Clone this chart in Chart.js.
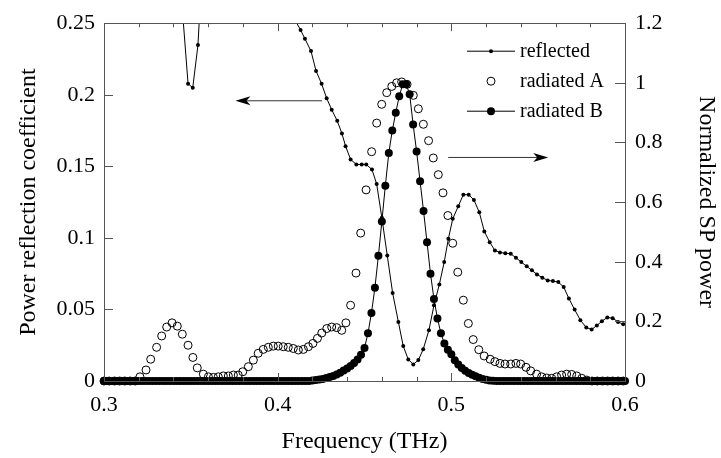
<!DOCTYPE html>
<html>
<head>
<meta charset="utf-8">
<script src="https://cdn.jsdelivr.net/npm/chart.js@4.4.0/dist/chart.umd.min.js"></script>
<style>
  html, body { margin: 0; padding: 0; background: #fff; }
</style>
</head>
<body>
<canvas id="chart" width="721" height="458"></canvas>
<script>
// reflected power (left axis)
const reflFreq = [
  0.3425, 0.3454, 0.3484, 0.3511, 0.3541, 0.3570, 0.4103, 0.4132, 0.4157, 0.4192,
  0.4221, 0.4253, 0.4282, 0.4311, 0.4343, 0.4370, 0.4391, 0.4420, 0.4453, 0.4484,
  0.4510, 0.4543, 0.4570, 0.4600, 0.4631, 0.4662, 0.4695, 0.4723, 0.4752, 0.4781,
  0.4810, 0.4838, 0.4871, 0.4900, 0.4931, 0.4959, 0.4983, 0.5008, 0.5040, 0.5069,
  0.5100, 0.5130, 0.5161, 0.5190, 0.5221, 0.5251, 0.5280, 0.5311, 0.5342, 0.5372,
  0.5403, 0.5434, 0.5464, 0.5493, 0.5524, 0.5555, 0.5585, 0.5616, 0.5647, 0.5677,
  0.5710, 0.5743, 0.5777, 0.5808, 0.5838, 0.5867, 0.5898, 0.5929, 0.5960, 0.5990
];
const reflValues = [
  0.32, 0.255, 0.2077, 0.2049, 0.2347, 0.30, 0.2515, 0.2453, 0.2391, 0.2305,
  0.2166, 0.2077, 0.1976, 0.1896, 0.1818, 0.1729, 0.1641, 0.1548, 0.1513, 0.1513,
  0.1513, 0.1478, 0.1377, 0.1140, 0.0877, 0.0615, 0.0413, 0.0244, 0.0151, 0.0116,
  0.0146, 0.0221, 0.0355, 0.0529, 0.0675, 0.0831, 0.0994, 0.1133, 0.1221, 0.1302,
  0.1302, 0.1265, 0.1179, 0.1045, 0.0970, 0.0912, 0.0898, 0.0893, 0.0889, 0.0861,
  0.0831, 0.0801, 0.0773, 0.0745, 0.0722, 0.0703, 0.0698, 0.0691, 0.0657, 0.0576,
  0.0499, 0.0425, 0.0374, 0.0360, 0.0388, 0.0418, 0.0444, 0.0439, 0.0413, 0.0397
];

// radiated A (right axis, open circles)
const radAFreq = [
  0.300, 0.303, 0.306, 0.309, 0.312, 0.315, 0.318, 0.3207, 0.3242, 0.3269,
  0.3303, 0.3332, 0.3361, 0.3392, 0.3422, 0.3451, 0.3484, 0.3512, 0.3537, 0.3572,
  0.3601, 0.3630, 0.3658, 0.3687, 0.3716, 0.3745, 0.3773, 0.3799, 0.3831, 0.3860,
  0.3888, 0.3917, 0.3946, 0.3975, 0.4003, 0.4032, 0.4061, 0.4090, 0.4119, 0.4148,
  0.4177, 0.4203, 0.4229, 0.4254, 0.4283, 0.4311, 0.4340, 0.4369, 0.4393, 0.4420,
  0.4451, 0.4478, 0.4509, 0.4541, 0.4570, 0.4599, 0.4628, 0.4657, 0.4685, 0.4714,
  0.4745, 0.4781, 0.4810, 0.4839, 0.4869, 0.4896, 0.4925, 0.4952, 0.4980, 0.5008,
  0.5037, 0.5069, 0.5098, 0.5126, 0.5158, 0.5189, 0.5223, 0.5251, 0.5280, 0.5309,
  0.5342, 0.5372, 0.5399, 0.5430, 0.5457, 0.5491, 0.5520, 0.5549, 0.5578, 0.5607,
  0.5635, 0.5664, 0.5693, 0.5722, 0.5751, 0.5780, 0.581, 0.584, 0.587, 0.590,
  0.593, 0.596, 0.599
];
const radAValues = [
  0, 0, 0, 0, 0, 0, 0, 0.014, 0.037, 0.073,
  0.113, 0.151, 0.181, 0.195, 0.184, 0.157, 0.120, 0.079, 0.044, 0.023,
  0.014, 0.012, 0.014, 0.017, 0.017, 0.020, 0.020, 0.031, 0.048, 0.070,
  0.093, 0.106, 0.113, 0.117, 0.117, 0.115, 0.113, 0.109, 0.104, 0.106,
  0.115, 0.126, 0.143, 0.161, 0.176, 0.181, 0.179, 0.170, 0.195, 0.254,
  0.362, 0.496, 0.641, 0.769, 0.865, 0.928, 0.967, 0.988, 1.000, 1.003,
  0.995, 0.958, 0.913, 0.861, 0.806, 0.748, 0.692, 0.631, 0.555, 0.462,
  0.365, 0.271, 0.193, 0.139, 0.105, 0.084, 0.073, 0.065, 0.059, 0.057,
  0.057, 0.059, 0.057, 0.046, 0.034, 0.023, 0.014, 0.010, 0.009, 0.014,
  0.020, 0.023, 0.022, 0.017, 0.009, 0.003, 0, 0, 0, 0,
  0, 0, 0
];

// radiated B (right axis, filled circles with line)
const radBFreq = [
  0.300, 0.302, 0.304, 0.306, 0.308, 0.310, 0.312, 0.314, 0.316, 0.318,
  0.320, 0.322, 0.324, 0.326, 0.328, 0.330, 0.332, 0.334, 0.336, 0.338,
  0.340, 0.342, 0.344, 0.346, 0.348, 0.350, 0.352, 0.354, 0.356, 0.358,
  0.360, 0.362, 0.364, 0.366, 0.368, 0.370, 0.372, 0.374, 0.376, 0.378,
  0.380, 0.382, 0.384, 0.386, 0.388, 0.390, 0.392, 0.394, 0.396, 0.398,
  0.400, 0.402, 0.404, 0.406, 0.408, 0.410, 0.412, 0.414, 0.416, 0.418,
  0.420, 0.422, 0.424, 0.426, 0.428, 0.430, 0.432, 0.434, 0.436, 0.438,
  0.440, 0.442, 0.444, 0.446, 0.448, 0.450, 0.452, 0.454, 0.456, 0.458,
  0.460, 0.462, 0.464, 0.466, 0.468, 0.470, 0.472, 0.474, 0.476, 0.478,
  0.480, 0.482, 0.484, 0.486, 0.488, 0.490, 0.492, 0.494, 0.496, 0.498,
  0.500, 0.502, 0.504, 0.506, 0.508, 0.510, 0.512, 0.514, 0.516, 0.518,
  0.520, 0.522, 0.524, 0.526, 0.528, 0.530, 0.532, 0.534, 0.536, 0.538,
  0.540, 0.542, 0.544, 0.546, 0.548, 0.550, 0.552, 0.554, 0.556, 0.558,
  0.560, 0.562, 0.564, 0.566, 0.568, 0.570, 0.572, 0.574, 0.576, 0.578,
  0.580, 0.582, 0.584, 0.586, 0.588, 0.590, 0.592, 0.594, 0.596, 0.598,
  0.600
];
const radBValues = [
  0, 0, 0, 0, 0, 0, 0, 0, 0, 0,
  0, 0, 0, 0, 0, 0, 0, 0, 0, 0,
  0, 0, 0, 0, 0, 0, 0, 0, 0, 0,
  0, 0, 0, 0, 0, 0, 0, 0, 0, 0,
  0, 0, 0, 0, 0, 0, 0, 0, 0, 0,
  0, 0, 0, 0, 0, 0, 0, 0, 0, 0,
  0.002, 0.003, 0.005, 0.007, 0.010, 0.013, 0.017, 0.022, 0.028, 0.035,
  0.042, 0.050, 0.060, 0.072, 0.088, 0.111, 0.160, 0.228, 0.313, 0.420,
  0.535, 0.655, 0.765, 0.840, 0.900, 0.955, 0.995, 0.995, 0.962, 0.860,
  0.770, 0.670, 0.570, 0.465, 0.360, 0.275, 0.210, 0.160, 0.126, 0.105,
  0.090, 0.070, 0.055, 0.044, 0.034, 0.027, 0.021, 0.016, 0.011, 0.007,
  0.004, 0.002, 0.001, 0, 0, 0, 0, 0, 0, 0,
  0, 0, 0, 0, 0, 0, 0, 0, 0, 0,
  0, 0, 0, 0, 0, 0, 0, 0, 0, 0,
  0, 0, 0, 0, 0, 0, 0, 0, 0, 0,
  0
];

const xTicks = [0.3, 0.4, 0.5, 0.6];
const xMinorTicks = [0.32, 0.34, 0.36, 0.38, 0.42, 0.44, 0.46, 0.48, 0.52, 0.54, 0.56, 0.58];
const leftTicks = [0, 0.05, 0.1, 0.15, 0.2, 0.25];
const rightTicks = [0, 0.2, 0.4, 0.6, 0.8, 1, 1.2];

const FONT = '"Liberation Serif", "Times New Roman", serif';
const AXIS_COLOR = '#555';

const toPoints = (xs, ys) => xs.map((x, i) => ({ x: x, y: ys[i] }));

// arrows pointing from the curves to their axes (in data units of left axis)
const arrows = [
    { from: [0.4256, 0.1958], to: [0.3757, 0.1958] },
    { from: [0.4982, 0.1562], to: [0.5558, 0.1562] }
];

function drawArrow(ctx, x1, y1, x2, y2) {
    const ang = Math.atan2(y2 - y1, x2 - x1);
    const len = 15, half = 4.5, notch = 11;
    const cos = Math.cos(ang), sin = Math.sin(ang);
    ctx.strokeStyle = '#333';
    ctx.lineWidth = 1;
    ctx.beginPath();
    ctx.moveTo(x1, y1);
    ctx.lineTo(x2 - cos * notch, y2 - sin * notch);
    ctx.stroke();
    ctx.fillStyle = '#000';
    ctx.beginPath();
    ctx.moveTo(x2, y2);
    ctx.lineTo(x2 - cos * len - sin * half, y2 - sin * len + cos * half);
    ctx.lineTo(x2 - cos * notch, y2 - sin * notch);
    ctx.lineTo(x2 - cos * len + sin * half, y2 - sin * len - cos * half);
    ctx.closePath();
    ctx.fill();
}

// frame with inward ticks, arrows and the in-plot legend
const framePlugin = {
    id: 'frame',
    afterDatasetsDraw(chart) {
        const { ctx, chartArea: a, scales } = chart;
        const xs = scales.x, yl = scales.y, yr = scales.y1;
        ctx.save();
        ctx.strokeStyle = AXIS_COLOR;
        ctx.lineWidth = 1;
        ctx.strokeRect(Math.round(a.left) + 0.5, Math.round(a.top) + 0.5,
            Math.round(a.right - a.left), Math.round(a.bottom - a.top));

        ctx.beginPath();
        const xTick = (v, l) => {
            const px = Math.round(xs.getPixelForValue(v)) + 0.5;
            ctx.moveTo(px, a.bottom); ctx.lineTo(px, a.bottom - l);
            ctx.moveTo(px, a.top); ctx.lineTo(px, a.top + l);
        };
        xTicks.forEach(v => xTick(v, 8));
        xMinorTicks.forEach(v => xTick(v, 4));
        leftTicks.forEach(v => {
            const py = Math.round(yl.getPixelForValue(v)) + 0.5;
            ctx.moveTo(a.left, py); ctx.lineTo(a.left + 9, py);
        });
        rightTicks.forEach(v => {
            const py = Math.round(yr.getPixelForValue(v)) + 0.5;
            ctx.moveTo(a.right, py); ctx.lineTo(a.right - 10, py);
        });
        ctx.stroke();

        arrows.forEach(ar => {
            drawArrow(ctx,
                xs.getPixelForValue(ar.from[0]), yl.getPixelForValue(ar.from[1]),
                xs.getPixelForValue(ar.to[0]), yl.getPixelForValue(ar.to[1]));
        });

        // legend
        const sx = a.right - 134;
        ctx.font = '20px ' + FONT;
        ctx.textBaseline = 'middle';
        chart.data.datasets.forEach((ds, i) => {
            const y = a.top + 28 + i * 30;
            if (ds.showLine) {
                ctx.strokeStyle = '#000';
                ctx.lineWidth = 1;
                ctx.beginPath();
                ctx.moveTo(sx - 24, y); ctx.lineTo(sx + 24, y);
                ctx.stroke();
            }
            ctx.beginPath();
            ctx.arc(sx, y, ds.pointRadius, 0, Math.PI * 2);
            ctx.fillStyle = ds.pointBackgroundColor;
            ctx.fill();
            if (ds.pointBorderWidth > 0) {
                ctx.strokeStyle = ds.pointBorderColor;
                ctx.lineWidth = ds.pointBorderWidth;
                ctx.stroke();
            }
            ctx.fillStyle = '#000';
            ctx.fillText(ds.label, a.right - 105, y + 1);
        });
        ctx.restore();
    }
};

const tickFont = { family: FONT, size: 22 };
const titleFont = { family: FONT, size: 24 };
const fmt = v => String(+Number(v).toFixed(3));

new Chart(document.getElementById('chart'), {
    type: 'scatter',
    data: {
        datasets: [{
            label: 'reflected',
            data: toPoints(reflFreq, reflValues),
            yAxisID: 'y',
            showLine: true,
            borderColor: '#000',
            borderWidth: 1,
            pointRadius: 2,
            pointBackgroundColor: '#000',
            pointBorderColor: '#000',
            pointBorderWidth: 0
        }, {
            label: 'radiated A',
            data: toPoints(radAFreq, radAValues),
            yAxisID: 'y1',
            showLine: false,
            clip: 10,
            pointRadius: 4,
            pointBackgroundColor: 'rgba(0,0,0,0)',
            pointBorderColor: '#000',
            pointBorderWidth: 1
        }, {
            label: 'radiated B',
            data: toPoints(radBFreq, radBValues),
            yAxisID: 'y1',
            showLine: true,
            clip: 10,
            borderColor: '#000',
            borderWidth: 1,
            pointRadius: 4,
            pointBackgroundColor: '#000',
            pointBorderColor: '#000',
            pointBorderWidth: 0
        }]
    },
    options: {
        responsive: false,
        animation: false,
        devicePixelRatio: 1,
        layout: { padding: { top: 22, left: 0, right: 0, bottom: 0 } },
        plugins: {
            legend: { display: false },
            tooltip: { enabled: false }
        },
        scales: {
            x: {
                type: 'linear',
                min: 0.3,
                max: 0.6,
                afterBuildTicks: s => { s.ticks = xTicks.map(v => ({ value: v })); },
                afterFit: s => { s.height = 77; },
                ticks: { font: tickFont, color: '#000', padding: 11, maxRotation: 0, callback: fmt },
                grid: { display: false, drawTicks: false },
                border: { display: false },
                title: {
                    display: true, text: 'Frequency (THz)', color: '#000',
                    font: titleFont, padding: { top: 0, bottom: 2 }
                }
            },
            y: {
                position: 'left',
                min: 0,
                max: 0.25,
                afterBuildTicks: s => { s.ticks = leftTicks.map(v => ({ value: v })); },
                afterFit: s => { s.width = 104; },
                ticks: { font: tickFont, color: '#000', padding: 9, callback: fmt },
                grid: { display: false, drawTicks: false },
                border: { display: false },
                title: {
                    display: true, text: 'Power reflection coefficient', color: '#000',
                    font: titleFont, padding: { top: 14, bottom: 0 }
                }
            },
            y1: {
                position: 'right',
                min: 0,
                max: 1.2,
                afterBuildTicks: s => { s.ticks = rightTicks.map(v => ({ value: v })); },
                afterFit: s => { s.width = 96; },
                ticks: { font: tickFont, color: '#000', padding: 10, callback: fmt },
                grid: { display: false, drawTicks: false },
                border: { display: false },
                title: {
                    display: true, text: 'Normalized SP power', color: '#000',
                    font: titleFont, padding: { top: 0, bottom: 0 }
                }
            }
        }
    },
    plugins: [framePlugin]
});
</script>
</body>
</html>
